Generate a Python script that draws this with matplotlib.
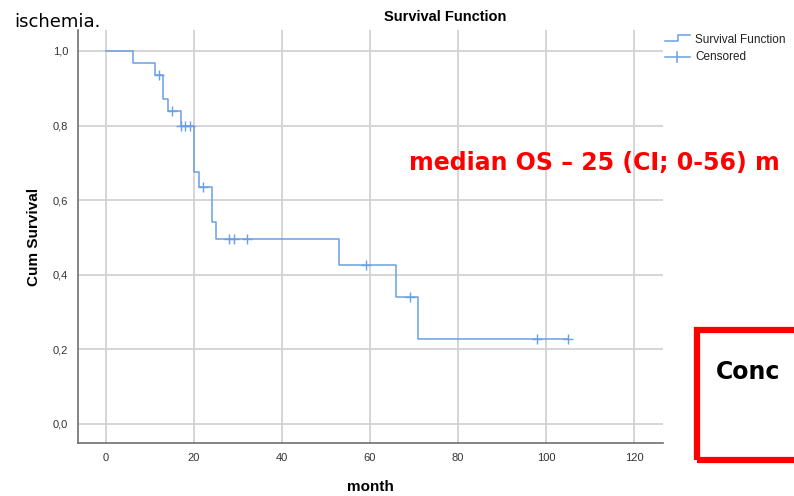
import numpy as np
import matplotlib.pyplot as plt
from matplotlib.lines import Line2D
from matplotlib.patches import Rectangle

# step points of the Kaplan-Meier curve (month, cum survival)
step_time = [0, 6, 11, 13, 14, 17, 20, 21, 24, 25, 53, 66, 71, 105]
step_surv = [1.0, 0.968, 0.936, 0.871, 0.838, 0.800, 0.676, 0.635, 0.542, 0.497, 0.426, 0.341, 0.227, 0.227]

# censored observations
cens_time = [12, 15, 17, 18, 19, 22, 28, 29, 32, 59, 69, 98, 105]
cens_surv = [0.936, 0.838, 0.800, 0.800, 0.800, 0.635, 0.497, 0.497, 0.497, 0.426, 0.341, 0.227, 0.227]

xticks = [0, 20, 40, 60, 80, 100, 120]
yticks = [0.0, 0.2, 0.4, 0.6, 0.8, 1.0]
ytick_labels = ['0,0', '0,2', '0,4', '0,6', '0,8', '1,0']

blue = '#6a9fe3'

plt.rcParams['font.family'] = ['Liberation Sans', 'DejaVu Sans']

fig = plt.figure(figsize=(7.94, 4.96), dpi=100)
ax = fig.add_axes([78/794, 1-443/496, (663-78)/794, (443-30)/496])

ax.step(step_time, step_surv, where='post', color=blue, lw=1.1, zorder=3)
ax.plot(cens_time, cens_surv, ls='none', marker='|', ms=7, mew=1.0, color=blue, zorder=3)
ax.plot(cens_time, cens_surv, ls='none', marker='_', ms=7, mew=1.0, color=blue, zorder=3)

ax.set_xlim(-6.4, 126.6)
ax.set_ylim(-0.051, 1.056)
ax.set_xticks(xticks)
ax.set_yticks(yticks)
ax.set_yticklabels(ytick_labels)
ax.tick_params(length=0, labelsize=8, colors='#333333', pad=7)
ax.grid(True, color='#d2d2d2', lw=1.3)
ax.set_axisbelow(True)
for s in ['top', 'right']:
    ax.spines[s].set_visible(False)
for s in ['left', 'bottom']:
    ax.spines[s].set_color('#707070')
    ax.spines[s].set_linewidth(1.2)

def px(x, y):
    return x/794, 1-y/496

fig.text(*px(370, 487), 'month', fontsize=11, fontweight='bold', ha='center', va='center')
fig.text(*px(34, 237), 'Cum Survival', fontsize=11, fontweight='bold', ha='center',
         va='center', rotation=90)
fig.text(*px(445, 17), 'Survival Function', fontsize=10.5, fontweight='bold',
         ha='center', va='center')

# legend drawn in figure pixels
tr = fig.transFigure
fig.add_artist(Line2D([665/794, 678/794, 678/794, 690/794],
                      [1-41/496, 1-41/496, 1-35/496, 1-35/496], color=blue, lw=1.1))
fig.add_artist(Line2D([665/794, 690/794], [1-57/496, 1-57/496], color=blue, lw=1.1))
fig.add_artist(Line2D([677/794, 677/794], [1-52/496, 1-62/496], color=blue, lw=1.1))
fig.text(*px(695, 40), 'Survival Function', fontsize=8.5, va='center', color='#222222')
fig.text(*px(695, 57), 'Censored', fontsize=8.5, va='center', color='#222222')

# slide overlay texts
fig.text(*px(14, 22), 'ischemia.', fontsize=13, va='center',
         family=['DejaVu Sans'])
fig.text(*px(594, 163), 'median OS \u2013 25 (CI; 0-56) m', fontsize=17, color='#ff0000',
         fontweight='bold', ha='center', va='center', family=['DejaVu Sans'])
fig.add_artist(Rectangle(px(697, 460), 120/794, 130/496, transform=tr,
                         fill=False, edgecolor='#ff0000', lw=4.5))
fig.text(*px(716, 372), 'Conc', fontsize=17, fontweight='bold', va='center',
         family=['DejaVu Sans'])

plt.savefig('out.png')
